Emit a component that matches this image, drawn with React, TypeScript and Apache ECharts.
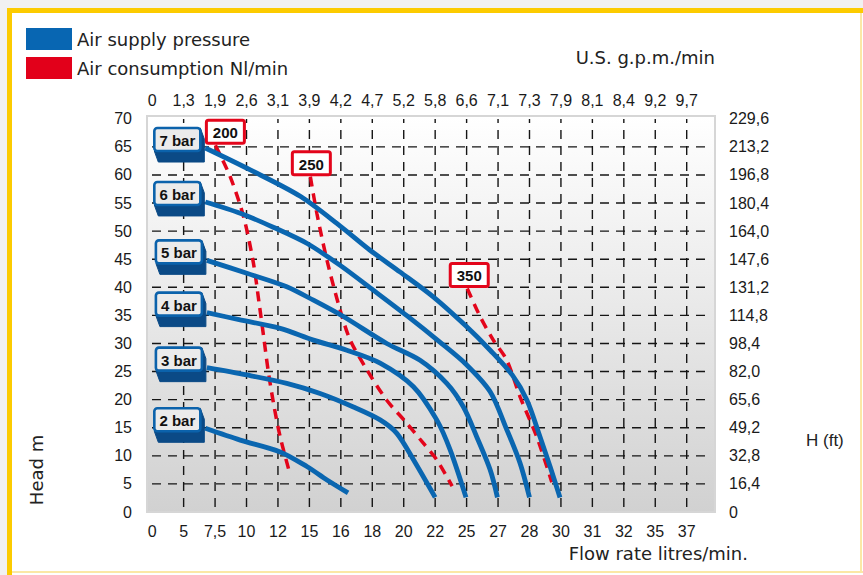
import React, { useEffect, useRef } from "react";
import * as echarts from "echarts";

// Horizontal positions are expressed in tick slots of the (non-linear) flow axis:
// slot 0 = "0", slot 1 = "5", slot 2 = "7,5", ... slot 17 = "37".
const flowTickLabels = ["0", "5", "7,5", "10", "12", "15", "16", "18", "20", "22", "25", "27", "28", "30", "31", "32", "35", "37"];
const gpmTickLabels = ["0", "1,3", "1,9", "2,6", "3,1", "3,9", "4,2", "4,7", "5,2", "5,8", "6,6", "7,1", "7,3", "7,9", "8,1", "8,4", "9,2", "9,7"];
const flowSlots = [0, 1, 2, 3, 4, 5, 6, 7, 8, 9, 10, 11, 12, 13, 14, 15, 16, 17];
const headTicks = [0, 5, 10, 15, 20, 25, 30, 35, 40, 45, 50, 55, 60, 65, 70];
const feetTickLabels = ["0", "16,4", "32,8", "49,2", "65,6", "82,0", "98,4", "114,8", "131,2", "147,6", "164,0", "180,4", "196,8", "213,2", "229,6"];
const gridSlots = [1, 2, 3, 4, 5, 6, 7, 8, 9, 10, 11, 12, 13, 14, 15, 16, 17];
const gridHeads = [5, 10, 15, 20, 25, 30, 35, 40, 45, 50, 55, 60, 65];

const pressureNames = ["7 bar", "6 bar", "5 bar", "4 bar", "3 bar", "2 bar"];
const pressure7 = [[1.69, 64.8], [3.12, 60.9], [4.71, 56.2], [5.98, 50.9], [6.93, 46.6], [7.89, 42.7], [8.94, 38.3], [9.98, 33.1], [10.75, 28.8], [11.45, 24.4], [11.92, 19.9], [12.34, 13.3], [12.66, 8.0], [12.97, 2.6]];
const pressure6 = [[1.69, 55.2], [2.8, 53.2], [3.85, 50.7], [4.93, 47.8], [5.98, 43.9], [7.03, 39.5], [8.11, 34.9], [9.16, 30.2], [9.98, 26.3], [10.75, 21.4], [11.26, 14.9], [11.7, 8.7], [12.0, 2.6]];
const pressure5 = [[1.74, 44.8], [3.01, 42.5], [4.28, 40.1], [5.13, 37.7], [6.08, 34.8], [7.46, 30.0], [8.52, 27.0], [9.37, 22.9], [9.9, 18.7], [10.32, 13.4], [10.75, 7.5], [10.98, 2.6]];
const pressure4 = [[1.74, 35.5], [2.8, 34.2], [4.07, 32.7], [5.13, 30.6], [6.19, 28.8], [7.25, 26.5], [8.31, 22.3], [9.05, 16.4], [9.48, 11.0], [9.98, 2.6]];
const pressure3 = [[1.74, 25.7], [3.01, 24.4], [4.28, 22.9], [5.34, 21.1], [6.4, 18.7], [7.25, 16.4], [7.78, 14.0], [8.31, 9.3], [9.0, 2.6]];
const pressure2 = [[1.69, 14.9], [2.8, 12.8], [4.07, 10.7], [4.92, 8.1], [5.56, 5.7], [6.23, 3.4]];

const consumptionNames = ["200", "250", "350"];
const consumption200 = [[2.01, 65.3], [2.48, 59.7], [2.91, 52.5], [3.22, 44.3], [3.4, 37.2], [3.55, 31.0], [3.68, 25.5], [3.86, 19.3], [4.07, 13.4], [4.39, 6.6]];
const consumption250 = [[5.03, 59.7], [5.24, 53.1], [5.56, 44.8], [5.98, 35.9], [6.3, 30.6], [6.83, 25.3], [7.46, 19.9], [8.1, 15.8], [8.63, 12.2], [9.05, 9.3], [9.54, 4.6]];
const consumption350 = [[10.02, 39.8], [10.43, 34.8], [10.85, 30.6], [11.28, 27.0], [11.7, 20.5], [12.23, 13.4], [12.71, 5.3]];

const pressureSeries = [pressure7, pressure6, pressure5, pressure4, pressure3, pressure2];
const consumptionSeries = [consumption200, consumption250, consumption350];

const X_MIN = -0.165;
const X_MAX = 17.9;
const Y_MAX = 70.5;

const BLUE = "#0a66b0";
const RED = "#e3051b";
const TICK_FONT = "Liberation Sans";
const TEXT_FONT = "DejaVu Sans";

function buildOption(): any {
  const axisCommon = {
    type: "value",
    axisLine: { show: false },
    axisTick: { show: false },
    splitLine: { show: false },
  };
  const labelStyle = { fontFamily: TICK_FONT, fontSize: 16, color: "#1a1a1a" };
  const gridStyle = { stroke: "#151515", lineWidth: 1.4, lineDash: [9, 7] };

  const series: any[] = [];

  series.push({
    type: "custom",
    name: "vgrid",
    silent: true,
    z: 1,
    data: gridSlots.map((v) => [v, 0]),
    renderItem: (params: any, api: any) => {
      const v = api.value(0);
      const a = api.coord([v, 0]);
      const b = api.coord([v, Y_MAX]);
      return {
        type: "line",
        shape: { x1: a[0], y1: a[1] - 5, x2: b[0], y2: b[1] + 3 },
        style: gridStyle,
      };
    },
  });
  series.push({
    type: "custom",
    name: "hgrid",
    silent: true,
    z: 1,
    data: gridHeads.map((v) => [0, v]),
    renderItem: (params: any, api: any) => {
      const v = api.value(1);
      const a = api.coord([X_MIN, v]);
      const b = api.coord([X_MAX, v]);
      return {
        type: "line",
        shape: { x1: a[0] + 5, y1: a[1], x2: b[0] - 5, y2: b[1] },
        style: gridStyle,
      };
    },
  });

  consumptionSeries.forEach((d) => {
    series.push({
      type: "line",
      name: "Air consumption Nl/min",
      data: d,
      smooth: 0.3,
      showSymbol: false,
      symbol: "none",
      z: 3,
      lineStyle: { color: RED, width: 3.5, type: [10, 7] },
      itemStyle: { color: RED },
    });
  });

  pressureSeries.forEach((d) => {
    series.push({
      type: "line",
      name: "Air supply pressure",
      data: d,
      smooth: 0.3,
      showSymbol: false,
      symbol: "none",
      z: 4,
      lineStyle: { color: BLUE, width: 4.8 },
      itemStyle: { color: BLUE },
    });
  });

  // 3D style label boxes for the pressure curves
  series.push({
    type: "custom",
    name: "pressureLabels",
    silent: true,
    z: 6,
    data: pressureSeries.map((d) => d[0]),
    renderItem: (params: any, api: any) => {
      const p = api.coord([api.value(0), api.value(1)]);
      const w = 46;
      const h = 23;
      const x1 = p[0] - 5;
      const x0 = x1 - w;
      const y0 = p[1] - 20;
      const y1 = y0 + h;
      const dx = 4;
      const dy = 11;
      return {
        type: "group",
        children: [
          {
            type: "polygon",
            shape: { points: [[x0, y1], [x0 + dx, y1 + dy], [x1 + dx, y1 + dy], [x1 + dx, y0 + dy], [x1, y0]] },
            style: { fill: "#0b4a86", stroke: "#0b4a86", lineWidth: 1 },
          },
          {
            type: "rect",
            shape: { x: x0, y: y0, width: w, height: h, r: 3 },
            style: { fill: "#ebebeb", stroke: "#0b62ab", lineWidth: 2.6 },
          },
          {
            type: "text",
            style: {
              x: (x0 + x1) / 2,
              y: (y0 + y1) / 2 + 1,
              text: pressureNames[params.dataIndex],
              align: "center",
              verticalAlign: "middle",
              fontFamily: TICK_FONT,
              fontWeight: "bold",
              fontSize: 15,
              fill: "#111",
            },
          },
        ],
      };
    },
  });

  const redOffsets = [10, 1, 2];
  series.push({
    type: "custom",
    name: "consumptionLabels",
    silent: true,
    z: 6,
    data: consumptionSeries.map((d) => d[0]),
    renderItem: (params: any, api: any) => {
      const p = api.coord([api.value(0), api.value(1)]);
      const w = 38;
      const h = 23;
      const cx = p[0] + redOffsets[params.dataIndex];
      const y1 = p[1] - 2;
      const y0 = y1 - h;
      return {
        type: "group",
        children: [
          {
            type: "rect",
            shape: { x: cx - w / 2, y: y0, width: w, height: h, r: 2 },
            style: { fill: "#ffffff", stroke: RED, lineWidth: 3 },
          },
          {
            type: "text",
            style: {
              x: cx,
              y: y0 + h / 2 + 1,
              text: consumptionNames[params.dataIndex],
              align: "center",
              verticalAlign: "middle",
              fontFamily: TICK_FONT,
              fontWeight: "bold",
              fontSize: 15,
              fill: "#111",
            },
          },
        ],
      };
    },
  });

  return {
    animation: false,
    backgroundColor: "#ffffff",
    textStyle: { fontFamily: TICK_FONT },
    legend: {
      orient: "vertical",
      left: 26,
      top: 28,
      padding: 0,
      itemWidth: 46,
      itemHeight: 22,
      itemGap: 7,
      icon: "rect",
      selectedMode: false,
      textStyle: { fontFamily: TEXT_FONT, fontSize: 18, color: "#222" },
      data: [
        { name: "Air supply pressure", itemStyle: { color: "#0866b2" } },
        { name: "Air consumption Nl/min", itemStyle: { color: "#e2001a" } },
      ],
    },
    grid: {
      left: 147,
      top: 116,
      right: 148,
      bottom: 63,
      show: true,
      backgroundColor: new echarts.graphic.LinearGradient(0, 0, 0, 1, [
        { offset: 0, color: "#ffffff" },
        { offset: 1, color: "#d1d1d1" },
      ]),
      borderColor: "#d6d6d6",
      borderWidth: 2,
    },
    xAxis: [
      {
        ...axisCommon,
        position: "bottom",
        min: X_MIN,
        max: X_MAX,
        axisLabel: {
          ...labelStyle,
          margin: 11,
          customValues: flowSlots,
          formatter: (v: number) => flowTickLabels[Math.round(v)] ?? "",
        },
      },
      {
        ...axisCommon,
        position: "top",
        min: X_MIN,
        max: X_MAX,
        axisLabel: {
          ...labelStyle,
          margin: 8,
          customValues: flowSlots,
          formatter: (v: number) => gpmTickLabels[Math.round(v)] ?? "",
        },
      },
    ],
    yAxis: [
      {
        ...axisCommon,
        position: "left",
        min: 0,
        max: Y_MAX,
        axisLabel: {
          ...labelStyle,
          margin: 15,
          customValues: headTicks,
          formatter: (v: number) => String(v),
        },
      },
      {
        ...axisCommon,
        position: "right",
        min: 0,
        max: Y_MAX,
        axisLabel: {
          ...labelStyle,
          margin: 14,
          customValues: headTicks,
          formatter: (v: number) => feetTickLabels[Math.round(v / 5)] ?? "",
        },
      },
    ],
    graphic: [
      { type: "rect", shape: { x: 0, y: 0, width: 863, height: 8 }, style: { fill: "#f1f1f1" }, silent: true },
      { type: "rect", shape: { x: 0, y: 0, width: 7, height: 575 }, style: { fill: "#f1f1f1" }, silent: true },
      { type: "line", shape: { x1: 861, y1: 10, x2: 861, y2: 573 }, style: { stroke: "#fbe8a6", lineWidth: 2 }, silent: true },
      { type: "line", shape: { x1: 10, y1: 572, x2: 863, y2: 572 }, style: { stroke: "#fbe8a6", lineWidth: 2 }, silent: true },
      { type: "line", shape: { x1: 7, y1: 10.5, x2: 863, y2: 10.5 }, style: { stroke: "#fccb00", lineWidth: 5 }, silent: true },
      { type: "line", shape: { x1: 9.5, y1: 8, x2: 9.5, y2: 575 }, style: { stroke: "#fccb00", lineWidth: 5 }, silent: true },
      {
        type: "text",
        x: 715,
        y: 57,
        style: { text: "U.S. g.p.m./min", align: "right", verticalAlign: "middle", fontFamily: TEXT_FONT, fontSize: 18, fill: "#222" },
      },
      {
        type: "text",
        x: 748,
        y: 553,
        style: { text: "Flow rate litres/min.", align: "right", verticalAlign: "middle", fontFamily: TEXT_FONT, fontSize: 18, fill: "#222" },
      },
      {
        type: "text",
        x: 36,
        y: 470,
        rotation: Math.PI / 2,
        style: { text: "Head m", align: "center", verticalAlign: "middle", fontFamily: TEXT_FONT, fontSize: 18, fill: "#222" },
      },
      {
        type: "text",
        x: 806,
        y: 440,
        style: { text: "H (ft)", align: "left", verticalAlign: "middle", fontFamily: TICK_FONT, fontSize: 17, fill: "#222" },
      },
    ],
    series,
  };
}

export default function App() {
  const ref = useRef<HTMLDivElement>(null);
  useEffect(() => {
    const el = ref.current;
    if (!el) return;
    const chart = echarts.init(el, undefined, { renderer: "svg" });
    chart.setOption(buildOption());
    return () => {
      chart.dispose();
    };
  }, []);
  return <div ref={ref} style={{ position: "fixed", left: 0, top: 0, width: 863, height: 575 }} />;
}
